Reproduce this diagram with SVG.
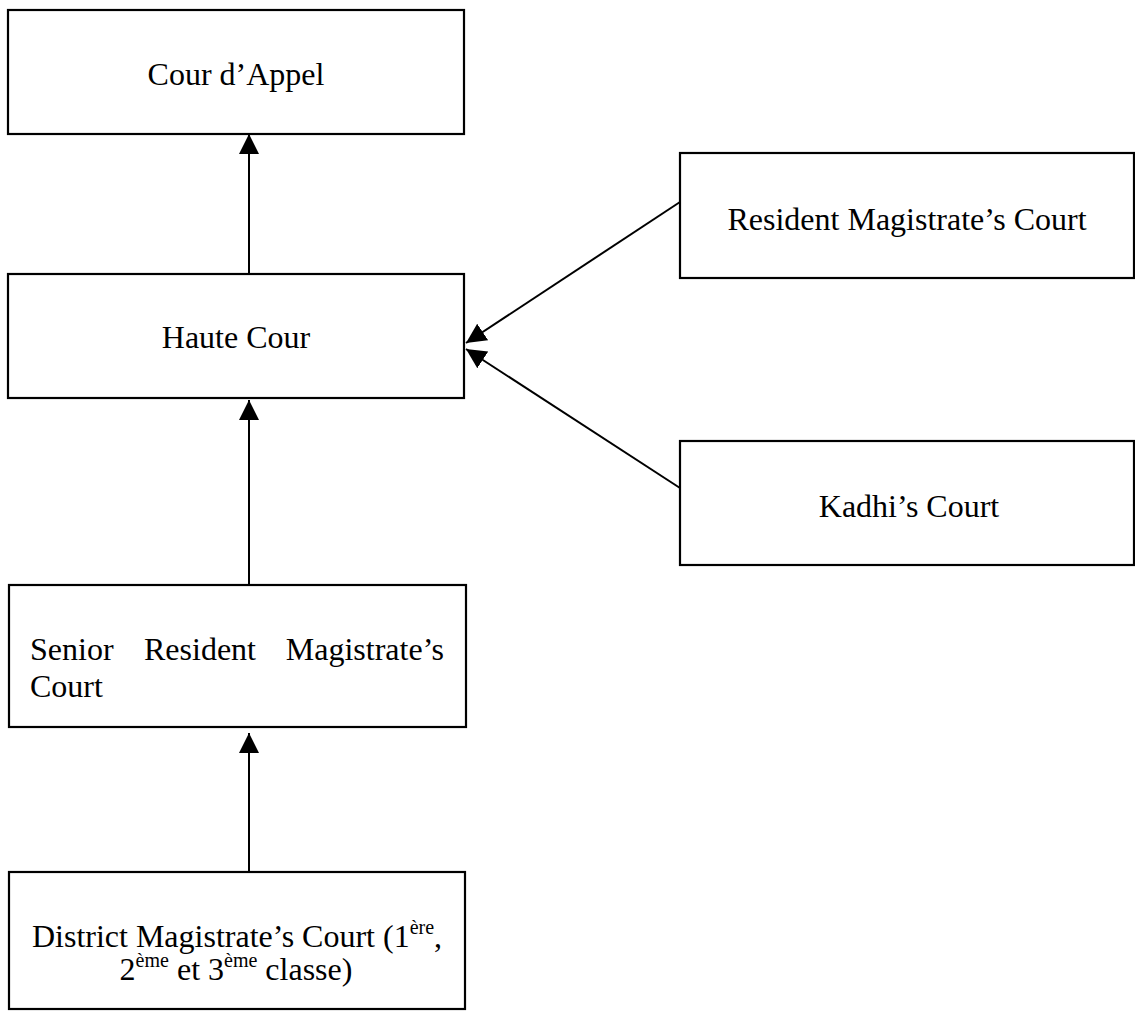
<svg xmlns="http://www.w3.org/2000/svg" width="1135" height="1011" viewBox="0 0 1135 1011">
  <defs>
    <style>
      .box { fill: #ffffff; stroke: #000000; stroke-width: 2.2; }
      .lbl { font-family: "Liberation Serif", "Times New Roman", serif; font-size: 32px; fill: #000000; }
      .mid { text-anchor: middle; }
      .sup { font-size: 20px; }
      .conn { stroke: #000000; stroke-width: 2; fill: none; marker-end: url(#arrow); }
    </style>
    <marker id="arrow" markerUnits="userSpaceOnUse" markerWidth="22" markerHeight="22" refX="20" refY="10" orient="auto" viewBox="0 0 22 22">
      <path d="M0,0 L20,10 L0,20 z" fill="#000000"/>
    </marker>
  </defs>
  <rect x="0" y="0" width="1135" height="1011" fill="#ffffff"/>

  <g id="connectors">
    <line class="conn" x1="249" y1="274" x2="249" y2="134"/>
    <line class="conn" x1="249" y1="585" x2="249" y2="400"/>
    <line class="conn" x1="249" y1="872" x2="249" y2="733"/>
    <line class="conn" x1="680" y1="202" x2="466" y2="343"/>
    <line class="conn" x1="680" y1="488" x2="466" y2="349"/>
  </g>

  <g id="cour-appel">
    <rect class="box" x="8" y="10" width="456" height="124"/>
    <text class="lbl mid" x="236" y="85">Cour d’Appel</text>
  </g>

  <g id="haute-cour">
    <rect class="box" x="8" y="274" width="456" height="124"/>
    <text class="lbl mid" x="236" y="348">Haute Cour</text>
  </g>

  <g id="resident-magistrate">
    <rect class="box" x="680" y="153" width="454" height="125"/>
    <text class="lbl mid" x="907" y="230">Resident Magistrate’s Court</text>
  </g>

  <g id="kadhi">
    <rect class="box" x="680" y="441" width="454" height="124"/>
    <text class="lbl mid" x="909" y="517">Kadhi’s Court</text>
  </g>

  <g id="senior-resident">
    <rect class="box" x="9" y="585" width="457" height="142"/>
    <text class="lbl" x="30" y="660">Senior</text>
    <text class="lbl" x="144" y="660">Resident</text>
    <text class="lbl" x="444" y="660" text-anchor="end">Magistrate’s</text>
    <text class="lbl" x="30" y="697">Court</text>
  </g>

  <g id="district-magistrate">
    <rect class="box" x="9" y="872" width="456" height="137"/>
    <text class="lbl mid" x="237" y="947">District Magistrate’s Court (1<tspan class="sup" dy="-13">ère</tspan><tspan dy="13">,</tspan></text>
    <text class="lbl mid" x="236" y="980">2<tspan class="sup" dy="-13">ème</tspan><tspan dy="13"> et 3</tspan><tspan class="sup" dy="-13">ème</tspan><tspan dy="13"> classe)</tspan></text>
  </g>
</svg>
